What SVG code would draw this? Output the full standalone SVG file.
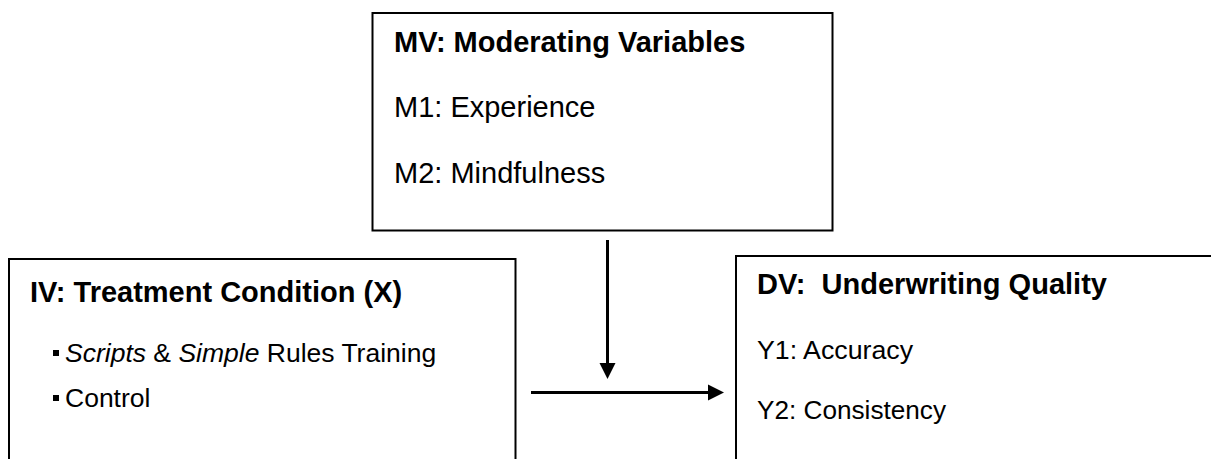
<svg xmlns="http://www.w3.org/2000/svg" width="1211" height="459" viewBox="0 0 1211 459">
<style>
.box{fill:#fff;stroke:#000;stroke-width:2}
.t{font-family:"Liberation Sans",Arial,sans-serif;fill:#000}
.h{font-weight:bold;font-size:29px}
.b{font-size:29px}
.s{font-size:26.5px}
.n{font-family:"Liberation Sans Narrow","Liberation Sans",Arial,sans-serif}
.blt{fill:#000}
.ln{stroke:#000;stroke-width:3;fill:none}
</style>
<rect width="1211" height="459" fill="#fff"/>
<g id="mv">
<rect class="box" x="372.5" y="13" width="460" height="217.5"/>
<text class="t h" x="394" y="52">MV: Moderating Variables</text>
<text class="t b" x="394" y="117">M1: Experience</text>
<text class="t b" x="394" y="183">M2: Mindfulness</text>
</g>
<g id="iv">
<rect class="box" x="9" y="259" width="506.5" height="220"/>
<text class="t h" x="30" y="302">IV: Treatment Condition (X)</text>
<rect class="blt" x="53" y="350" width="6" height="6"/>
<text class="t s" x="65" y="362"><tspan font-style="italic">Scripts</tspan> &amp; <tspan font-style="italic">Simple</tspan> Rules Training</text>
<rect class="blt" x="53" y="395" width="6" height="6"/>
<text class="t s" x="65" y="407">Control</text>
</g>
<g id="dv">
<rect class="box" x="736" y="256" width="500" height="220"/>
<text class="t h n" x="757" y="294" font-size="30" textLength="350" lengthAdjust="spacingAndGlyphs" xml:space="preserve">DV:  Underwriting Quality</text>
<text class="t s n" x="757" y="359" font-size="27.5" textLength="156" lengthAdjust="spacingAndGlyphs">Y1: Accuracy</text>
<text class="t s n" x="757" y="419" font-size="27.5" textLength="189" lengthAdjust="spacingAndGlyphs">Y2: Consistency</text>
</g>
<g id="connectors">
<line class="ln" x1="607.5" y1="240" x2="607.5" y2="364"/>
<polygon points="599.5,363 615.5,363 607.5,379"/>
<line class="ln" x1="531" y1="392.5" x2="709" y2="392.5"/>
<polygon points="708,384.5 708,400.5 724,392.5"/>
</g>
</svg>
